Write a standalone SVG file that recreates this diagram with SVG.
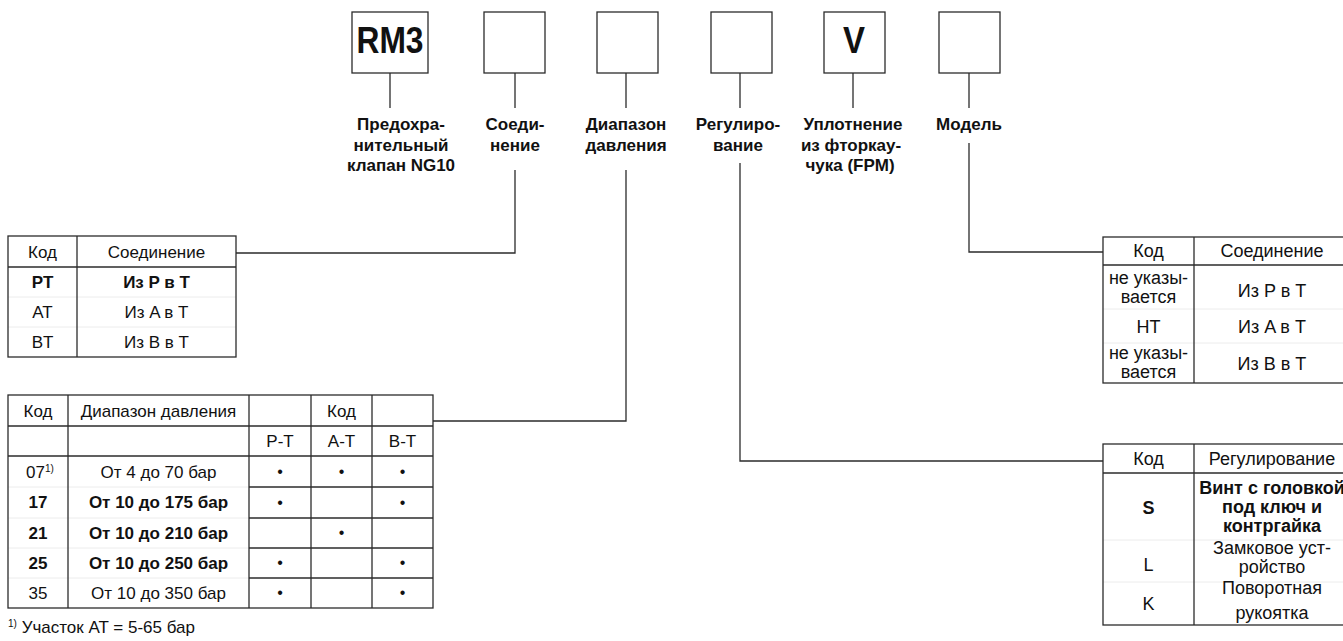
<svg xmlns="http://www.w3.org/2000/svg" width="1343" height="641" viewBox="0 0 1343 641">
  <style>
    .ln { stroke: #2b2b2b; stroke-width: 1.3; fill: none; }
    .faint { stroke: #ececec; stroke-width: 1; fill: none; }
    .box { stroke: #2b2b2b; stroke-width: 1.3; fill: #ffffff; }
    text { font-family: "Liberation Sans", Arial, sans-serif; fill: #111; }
    .big { font-size: 36px; font-weight: bold; text-anchor: middle; }
    .lbl { font-size: 17px; font-weight: bold; text-anchor: middle; }
    .t { font-size: 17px; text-anchor: middle; }
    .r { font-size: 18px; text-anchor: middle; }
    .b { font-weight: bold; }
    .sup { font-size: 10px; }
    .dot { font-size: 16px; text-anchor: middle; }
  </style>

  <rect width="1343" height="641" fill="#ffffff"/>

  <!-- type-code boxes with their captions -->
  <g id="box-rm3">
    <rect class="box" x="352" y="12" width="76" height="61"/>
    <text class="big" x="390" y="53" textLength="67" lengthAdjust="spacingAndGlyphs">RM3</text>
    <line class="ln" x1="390" y1="73" x2="390" y2="108"/>
    <text class="lbl" x="401" y="130">Предохра-</text>
    <text class="lbl" x="401" y="150.5">нительный</text>
    <text class="lbl" x="401" y="171">клапан NG10</text>
  </g>
  <g id="box-connection">
    <rect class="box" x="484" y="12" width="61" height="61"/>
    <line class="ln" x1="515" y1="73" x2="515" y2="108"/>
    <text class="lbl" x="515" y="130">Соеди-</text>
    <text class="lbl" x="515" y="150.5">нение</text>
  </g>
  <g id="box-pressure">
    <rect class="box" x="597" y="12" width="61" height="61"/>
    <line class="ln" x1="626" y1="73" x2="626" y2="108"/>
    <text class="lbl" x="626" y="130">Диапазон</text>
    <text class="lbl" x="626" y="150.5">давления</text>
  </g>
  <g id="box-adjust">
    <rect class="box" x="711" y="12" width="61" height="61"/>
    <line class="ln" x1="740" y1="73" x2="740" y2="108"/>
    <text class="lbl" x="738" y="130">Регулиро-</text>
    <text class="lbl" x="738" y="150.5">вание</text>
  </g>
  <g id="box-seal">
    <rect class="box" x="824" y="12" width="61" height="61"/>
    <text class="big" x="854" y="53" textLength="22" lengthAdjust="spacingAndGlyphs">V</text>
    <line class="ln" x1="853" y1="73" x2="853" y2="108"/>
    <text class="lbl" x="853" y="130">Уплотнение</text>
    <text class="lbl" x="851" y="150.5">из фторкау-</text>
    <text class="lbl" x="850" y="171">чука (FPM)</text>
  </g>
  <g id="box-model">
    <rect class="box" x="939" y="12" width="61" height="61"/>
    <line class="ln" x1="969" y1="73" x2="969" y2="108"/>
    <text class="lbl" x="969" y="130">Модель</text>
  </g>

  <!-- leaders from captions to the option tables -->
  <g id="connectors">
    <polyline class="ln" points="515,170 515,253 236,253"/>
    <polyline class="ln" points="626,170 626,421 433,421"/>
    <polyline class="ln" points="740,163 740,461 1103,461"/>
    <polyline class="ln" points="969,143 969,252 1103,252"/>
  </g>

  <!-- connection options -->
  <g id="table-connection">
    <line class="faint" x1="8" y1="297" x2="236" y2="297"/>
    <line class="faint" x1="8" y1="327" x2="236" y2="327"/>
    <rect class="ln" x="8" y="236" width="228" height="121"/>
    <line class="ln" x1="77" y1="236" x2="77" y2="357"/>
    <line class="ln" x1="8" y1="267" x2="236" y2="267"/>
    <text class="t" x="42.5" y="258">Код</text>
    <text class="t" x="156.5" y="258">Соединение</text>
    <text class="t b" x="42.5" y="288">PT</text>
    <text class="t b" x="156.5" y="288">Из P в T</text>
    <text class="t" x="42.5" y="318">AT</text>
    <text class="t" x="156.5" y="318">Из A в T</text>
    <text class="t" x="42.5" y="348">BT</text>
    <text class="t" x="156.5" y="348">Из B в T</text>
  </g>

  <!-- pressure range options -->
  <g id="table-pressure">
    <line class="faint" x1="8" y1="487" x2="249" y2="487"/>
    <line class="faint" x1="8" y1="518" x2="249" y2="518"/>
    <line class="faint" x1="8" y1="548" x2="249" y2="548"/>
    <line class="faint" x1="8" y1="578" x2="249" y2="578"/>
    <rect class="ln" x="8" y="395" width="425" height="213"/>
    <line class="ln" x1="68" y1="395" x2="68" y2="608"/>
    <line class="ln" x1="249" y1="395" x2="249" y2="608"/>
    <line class="ln" x1="311" y1="395" x2="311" y2="608"/>
    <line class="ln" x1="372" y1="395" x2="372" y2="608"/>
    <line class="ln" x1="8" y1="426" x2="433" y2="426"/>
    <line class="ln" x1="8" y1="456" x2="433" y2="456"/>
    <line class="ln" x1="249" y1="487" x2="433" y2="487"/>
    <line class="ln" x1="249" y1="518" x2="433" y2="518"/>
    <line class="ln" x1="249" y1="548" x2="433" y2="548"/>
    <line class="ln" x1="249" y1="578" x2="433" y2="578"/>
    <text class="t" x="38" y="417">Код</text>
    <text class="t" x="158.5" y="417">Диапазон давления</text>
    <text class="t" x="341.5" y="417">Код</text>
    <text class="t" x="280" y="447">P-T</text>
    <text class="t" x="341.5" y="447">A-T</text>
    <text class="t" x="402.5" y="447">B-T</text>

    <text x="26" y="478" style="font-size:17px">07<tspan class="sup" dy="-6">1)</tspan></text>
    <text class="t" x="158.5" y="478">От 4 до 70 бар</text>
    <text class="t b" x="38" y="508">17</text>
    <text class="t b" x="158.5" y="508">От 10 до 175 бар</text>
    <text class="t b" x="38" y="539">21</text>
    <text class="t b" x="158.5" y="539">От 10 до 210 бар</text>
    <text class="t b" x="38" y="569">25</text>
    <text class="t b" x="158.5" y="569">От 10 до 250 бар</text>
    <text class="t" x="38" y="599">35</text>
    <text class="t" x="158.5" y="599">От 10 до 350 бар</text>

    <text class="dot" x="280" y="477">•</text>
    <text class="dot" x="341.5" y="477">•</text>
    <text class="dot" x="402.5" y="477">•</text>
    <text class="dot" x="280" y="508">•</text>
    <text class="dot" x="402.5" y="508">•</text>
    <text class="dot" x="341.5" y="538">•</text>
    <text class="dot" x="280" y="568">•</text>
    <text class="dot" x="402.5" y="568">•</text>
    <text class="dot" x="280" y="598">•</text>
    <text class="dot" x="402.5" y="598">•</text>
  </g>

  <text x="8" y="633" style="font-size:17px"><tspan class="sup" dy="-6">1)</tspan><tspan dy="6"> Участок AT = 5-65 бар</tspan></text>

  <!-- model options -->
  <g id="table-model">
    <line class="faint" x1="1103" y1="309" x2="1350" y2="309"/>
    <line class="faint" x1="1103" y1="343" x2="1350" y2="343"/>
    <rect class="ln" x="1103" y="237" width="247" height="146"/>
    <line class="ln" x1="1194" y1="237" x2="1194" y2="383"/>
    <line class="ln" x1="1103" y1="265" x2="1350" y2="265"/>
    <text class="r" x="1148.5" y="257">Код</text>
    <text class="r" x="1272" y="257">Соединение</text>
    <text class="r" x="1148.5" y="284">не указы-</text>
    <text class="r" x="1148.5" y="303">вается</text>
    <text class="r" x="1272" y="297">Из P в T</text>
    <text class="r" x="1148.5" y="333">HT</text>
    <text class="r" x="1272" y="333">Из A в T</text>
    <text class="r" x="1148.5" y="359">не указы-</text>
    <text class="r" x="1148.5" y="378">вается</text>
    <text class="r" x="1272" y="370">Из B в T</text>
  </g>

  <!-- adjustment options -->
  <g id="table-adjust">
    <line class="faint" x1="1103" y1="540" x2="1350" y2="540"/>
    <line class="faint" x1="1103" y1="582" x2="1350" y2="582"/>
    <rect class="ln" x="1103" y="444" width="247" height="181"/>
    <line class="ln" x1="1194" y1="444" x2="1194" y2="625"/>
    <line class="ln" x1="1103" y1="473" x2="1350" y2="473"/>
    <text class="r" x="1148.5" y="465">Код</text>
    <text class="r" x="1272" y="465">Регулирование</text>
    <text class="r b" x="1148.5" y="514">S</text>
    <text class="r b" x="1272" y="494">Винт с головкой</text>
    <text class="r b" x="1272" y="513">под ключ и</text>
    <text class="r b" x="1272" y="532">контргайка</text>
    <text class="r" x="1148.5" y="571">L</text>
    <text class="r" x="1272" y="554">Замковое уст-</text>
    <text class="r" x="1272" y="573">ройство</text>
    <text class="r" x="1148.5" y="610">K</text>
    <text class="r" x="1272" y="594">Поворотная</text>
    <text class="r" x="1272" y="619">рукоятка</text>
  </g>
</svg>
